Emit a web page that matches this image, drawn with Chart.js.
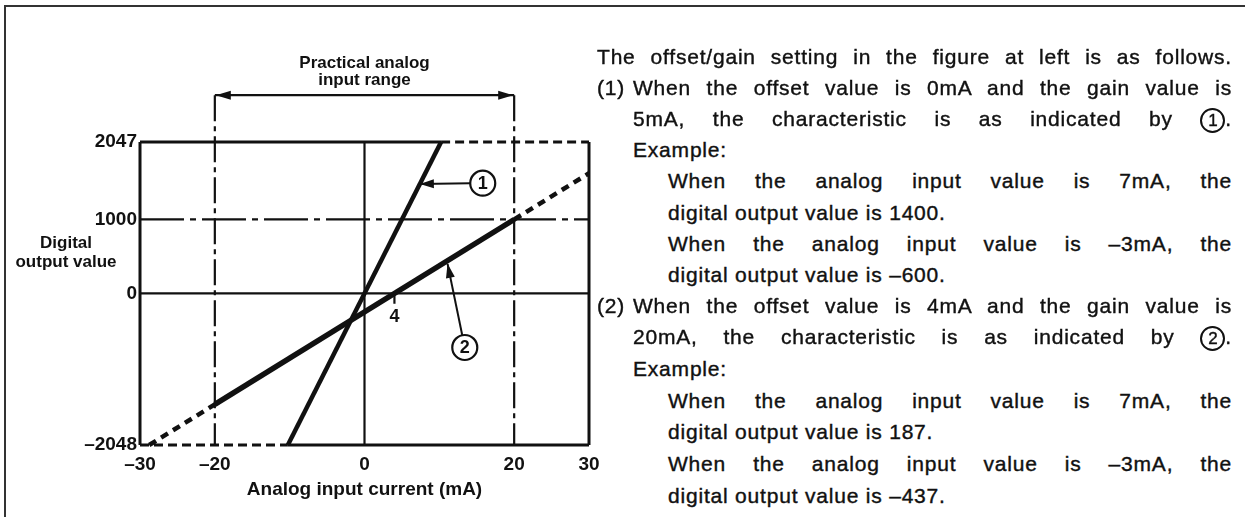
<!DOCTYPE html>
<html>
<head>
<meta charset="utf-8">
<script src="https://cdn.jsdelivr.net/npm/chart.js@4.4.1/dist/chart.umd.min.js"></script>
<style>
  html, body { margin: 0; padding: 0; background: #fff; }
  body { width: 1245px; height: 517px; position: relative; overflow: hidden;
         font-family: 'Liberation Sans', Arial, sans-serif; color: #111; }
  #frame { position: absolute; left: 4px; top: 5px; width: 1300px; height: 600px;
           border-top: 2px solid #333; border-left: 2px solid #333; }
  #chartBox { position: absolute; left: 0; top: 0; width: 620px; height: 517px; }
  .ln { position: absolute; font-size: 21px; line-height: 26px; white-space: nowrap;
        letter-spacing: 0.8px; -webkit-text-stroke: 0.4px #111; }
  .j { text-align: justify; text-align-last: justify; }
  .c { display: inline-block; width: 21px; height: 21px; border: 2px solid #111;
       border-radius: 50%; text-align: center; text-align-last: center; line-height: 21px;
       font-size: 17px; letter-spacing: 0; vertical-align: 0px; }
</style>
</head>
<body>
<div id="frame"></div>
<div id="chartBox"><canvas id="chart" width="620" height="517"></canvas></div>

<div class="ln j" style="left:597px;top:44px;width:635px">The offset/gain setting in the figure at left is as follows.</div>
<div class="ln" style="left:597px;top:75px">(1)</div>
<div class="ln j" style="left:633px;top:75px;width:599px">When the offset value is 0mA and the gain value is</div>
<div class="ln j" style="left:633px;top:106px;width:599px">5mA, the characteristic is as indicated by <span class="c">1</span>.</div>
<div class="ln" style="left:633px;top:137px">Example:</div>
<div class="ln j" style="left:668px;top:168px;width:564px">When the analog input value is 7mA, the</div>
<div class="ln" style="left:668px;top:200px">digital output value is 1400.</div>
<div class="ln j" style="left:668px;top:231px;width:564px">When the analog input value is &ndash;3mA, the</div>
<div class="ln" style="left:668px;top:262px">digital output value is &ndash;600.</div>
<div class="ln" style="left:597px;top:293px">(2)</div>
<div class="ln j" style="left:633px;top:293px;width:599px">When the offset value is 4mA and the gain value is</div>
<div class="ln j" style="left:633px;top:324px;width:599px">20mA, the characteristic is as indicated by <span class="c">2</span>.</div>
<div class="ln" style="left:633px;top:356px">Example:</div>
<div class="ln j" style="left:668px;top:388px;width:564px">When the analog input value is 7mA, the</div>
<div class="ln" style="left:668px;top:419px">digital output value is 187.</div>
<div class="ln j" style="left:668px;top:451px;width:564px">When the analog input value is &ndash;3mA, the</div>
<div class="ln" style="left:668px;top:483px">digital output value is &ndash;437.</div>

<script>
// --- DATA ---
const xTicks = [-30, -20, 0, 20, 30];
const yTicks = [-2048, 0, 1000, 2047];
const xMin = -30, xMax = 30;
const yMin = -2048, yMax = 2047;

// characteristic (1): offset 0mA, gain 5mA
const char1X = [-10.24, 10.235];
const char1Y = [-2048, 2047];

// characteristic (2): offset 4mA, gain 20mA (solid inside practical range)
const char2X = [-20, 20];
const char2Y = [-1500, 1000];
// dashed extensions of (2)
const char2LowX = [-28.77, -20];
const char2LowY = [-2048, -1500];
const char2HighX = [20, 30];
const char2HighY = [1000, 1625];

// practical analog input range
const rangeX = [-20, 20];
const rangeTop = 2680;

// --- HELPERS ---
const minus = v => (v < 0 ? '\u2013' + Math.abs(v) : String(v));
const pts = (xs, ys) => xs.map((x, i) => ({ x: x, y: ys[i] }));

function seg(xs, ys, width, dash) {
    return {
        data: pts(xs, ys),
        showLine: true,
        borderColor: '#111',
        borderWidth: width,
        borderDash: dash || [],
        borderCapStyle: 'butt',
        pointRadius: 0,
        pointHoverRadius: 0,
        clip: false,
        tension: 0
    };
}

function arrowHead(ctx, fx, fy, tx, ty, len, half) {
    const a = Math.atan2(ty - fy, tx - fx);
    ctx.beginPath();
    ctx.moveTo(tx, ty);
    ctx.lineTo(tx - len * Math.cos(a) + half * Math.sin(a), ty - len * Math.sin(a) - half * Math.cos(a));
    ctx.lineTo(tx - len * Math.cos(a) - half * Math.sin(a), ty - len * Math.sin(a) + half * Math.cos(a));
    ctx.closePath();
    ctx.fill();
}

// --- ANNOTATIONS (labels, pointers, circles) ---
const annotations = {
    id: 'annotations',
    afterDatasetsDraw(chart) {
        const ctx = chart.ctx;
        const xs = chart.scales.x, ys = chart.scales.y;
        const px = v => xs.getPixelForValue(v);
        const py = v => ys.getPixelForValue(v);
        ctx.save();
        ctx.fillStyle = '#111';
        ctx.strokeStyle = '#111';

        // range arrow heads
        const ry = py(rangeTop);
        arrowHead(ctx, px(0), ry, px(rangeX[0]) + 1, ry, 15, 4.5);
        arrowHead(ctx, px(0), ry, px(rangeX[1]) - 1, ry, 15, 4.5);

        // range label
        ctx.font = 'bold 17px "Liberation Sans", Arial, sans-serif';
        ctx.textAlign = 'center';
        ctx.textBaseline = 'middle';
        ctx.fillText('Practical analog', px(0), 63);
        ctx.fillText('input range', px(0), 80);

        // y title
        ctx.fillText('Digital', 66, 243);
        ctx.fillText('output value', 66, 262);

        // x title
        ctx.font = 'bold 19px "Liberation Sans", Arial, sans-serif';
        ctx.fillText('Analog input current (mA)', px(0), 490);

        // offset mark "4"
        ctx.font = 'bold 18px "Liberation Sans", Arial, sans-serif';
        ctx.fillText('4', px(4), 317);

        // pointers with circled numbers
        const marks = [
            { n: '1', cx: px(15.8), cy: py(1490), tx: px(7.4), ty: py(1480) },
            { n: '2', cx: px(13.4), cy: py(-730), tx: px(11.1), ty: py(400) }
        ];
        const r = 12.5;
        marks.forEach(m => {
            const d = Math.hypot(m.tx - m.cx, m.ty - m.cy);
            const sx = m.cx + r * (m.tx - m.cx) / d;
            const sy = m.cy + r * (m.ty - m.cy) / d;
            ctx.lineWidth = 2;
            ctx.beginPath();
            ctx.moveTo(sx, sy);
            ctx.lineTo(m.tx, m.ty);
            ctx.stroke();
            arrowHead(ctx, sx, sy, m.tx, m.ty, 14, 4.5);
            ctx.lineWidth = 2.2;
            ctx.beginPath();
            ctx.arc(m.cx, m.cy, r, 0, Math.PI * 2);
            ctx.fillStyle = '#fff';
            ctx.fill();
            ctx.stroke();
            ctx.fillStyle = '#111';
            ctx.font = 'bold 18px "Liberation Sans", Arial, sans-serif';
            ctx.fillText(m.n, m.cx, m.cy + 1);
        });
        ctx.restore();
    }
};

// --- CHART ---
const ctx = document.getElementById('chart').getContext('2d');
new Chart(ctx, {
    type: 'scatter',
    data: {
        datasets: [
            // frame
            seg([xMin, char1X[1]], [yMax, yMax], 3),
            seg([char1X[1], xMax], [yMax, yMax], 3, [9, 5]),
            seg([xMin, xMin], [yMin, yMax], 3),
            seg([xMax, xMax], [yMin, yMax], 3),
            seg([xMin, char1X[0]], [yMin, yMin], 3, [9, 5]),
            seg([char1X[0], xMax], [yMin, yMin], 3),
            // zero lines
            seg([xMin, xMax], [0, 0], 2.2),
            seg([0, 0], [yMin, yMax], 2.2),
            // 1000 level
            seg([xMin, xMax], [1000, 1000], 2.2, [44, 6, 6, 6]),
            // practical range limits
            seg([rangeX[0], rangeX[0]], [rangeTop, yMin], 2.2, [26, 5, 5, 5]),
            seg([rangeX[1], rangeX[1]], [rangeTop, yMin], 2.2, [26, 5, 5, 5]),
            seg(rangeX, [rangeTop, rangeTop], 2.2),
            // offset tick at 4mA
            seg([4, 4], [0, -140], 2.2),
            // characteristic (2)
            seg(char2LowX, char2LowY, 4.5, [8, 6]),
            seg(char2HighX, char2HighY, 4.5, [8, 6]),
            seg(char2X, char2Y, 5.5),
            // characteristic (1)
            seg(char1X, char1Y, 4.5)
        ]
    },
    options: {
        responsive: false,
        animation: false,
        events: [],
        layout: { padding: { top: 142, right: 31, left: 0, bottom: 0 } },
        scales: {
            x: {
                type: 'linear',
                min: xMin,
                max: xMax,
                afterBuildTicks: s => { s.ticks = xTicks.map(v => ({ value: v })); },
                afterFit: s => { s.height = 72; },
                grid: { display: false, drawTicks: false },
                border: { display: false },
                ticks: {
                    autoSkip: false,
                    maxRotation: 0,
                    padding: 8,
                    color: '#111',
                    font: { family: 'Liberation Sans', size: 19, weight: 'bold' },
                    callback: v => minus(v)
                }
            },
            y: {
                type: 'linear',
                min: yMin,
                max: yMax,
                afterBuildTicks: s => { s.ticks = yTicks.map(v => ({ value: v })); },
                afterFit: s => { s.width = 140; },
                grid: { display: false, drawTicks: false },
                border: { display: false },
                ticks: {
                    autoSkip: false,
                    padding: 3,
                    color: '#111',
                    font: { family: 'Liberation Sans', size: 19, weight: 'bold' },
                    callback: v => minus(v)
                }
            }
        },
        plugins: {
            legend: { display: false },
            tooltip: { enabled: false }
        }
    },
    plugins: [annotations]
});
</script>
</body>
</html>
